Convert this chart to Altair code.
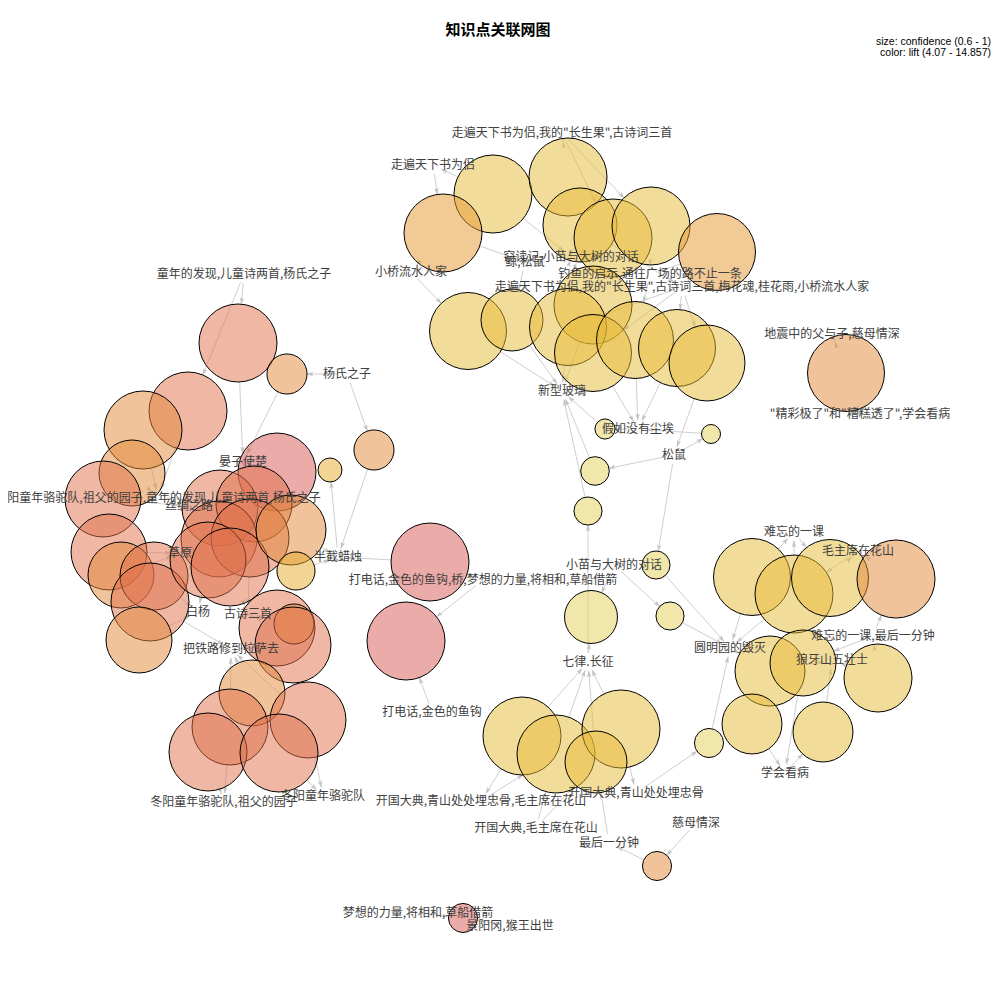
import math
import altair as alt
import pandas as pd

# ---------------- data ----------------
# rule nodes (circles): position in layout, confidence (size), lift (colour)
circle_x = [493, 568, 443, 580, 613, 651, 717, 593,
            468, 512, 568, 593, 635, 677, 707,
            605, 711, 595, 588, 656, 591, 670,
            846, 752, 794, 830, 896, 770, 803, 878, 752, 823, 709,
            522, 556, 621, 596, 657, 463,
            430, 406,
            238, 287, 188, 143, 132, 374, 330, 277, 103, 109, 121, 154, 150, 139,
            220, 254, 219, 250, 208, 230, 291, 296, 277, 294, 293,
            252, 230, 308, 208, 279]
circle_y = [194, 177, 233, 225, 238, 226, 252, 305,
            331, 320, 327, 353, 340, 348, 363,
            429, 434, 471, 511, 565, 617, 616,
            373, 577, 594, 578, 579, 671, 663, 678, 724, 732, 743,
            736, 754, 729, 762, 866, 918,
            562, 641,
            343, 374, 411, 430, 473, 450, 470, 472, 499, 552, 575, 576, 602, 640,
            508, 504, 539, 538, 560, 567, 530, 571, 628, 624, 645,
            693, 727, 720, 752, 753]
circle_conf = [1.0, 1.0, 1.0, 0.958, 1.0, 1.0, 0.989, 1.0,
               0.989, 0.843, 0.989, 0.989, 0.989, 0.989, 0.978,
               0.603, 0.600, 0.632, 0.630, 0.630, 0.771, 0.630,
               0.989, 0.989, 1.0, 0.989, 1.0, 0.917, 0.879, 0.898, 0.826, 0.826, 0.634,
               1.0, 1.0, 1.0, 0.843, 0.634, 0.634,
               1.0, 1.0,
               1.0, 0.687, 1.0, 1.0, 0.879, 0.687, 0.615, 1.0, 0.978, 0.978, 0.879, 0.898, 1.0, 0.879,
               0.978, 0.978, 0.978, 1.0, 0.978, 1.0, 0.917, 0.676, 0.978, 0.687, 0.978,
               0.879, 0.978, 0.978, 1.0, 1.0]
circle_lift = [6.0, 6.0, 7.5, 6.0, 6.0, 6.0, 7.5, 6.0,
               6.0, 6.0, 6.0, 6.0, 6.0, 6.0, 6.0,
               4.2, 4.2, 4.2, 4.2, 4.2, 4.2, 4.2,
               9.0, 6.0, 6.0, 6.0, 9.0, 6.0, 6.0, 6.0, 6.0, 6.0, 4.2,
               6.0, 6.0, 6.0, 6.0, 9.0, 14.5,
               14.5, 14.5,
               11.5, 9.0, 11.5, 9.0, 9.0, 9.0, 7.0, 14.5, 11.5, 11.5, 9.0, 11.5, 11.5, 9.0,
               11.5, 11.5, 11.5, 11.5, 11.5, 11.5, 9.0, 7.0, 11.5, 9.0, 11.5,
               9.0, 11.5, 11.5, 11.5, 11.5]

# item nodes (labels)
label_text = [
    '走遍天下书为侣,我的"长生果",古诗词三首',
    '走遍天下书为侣',
    '小桥流水人家',
    '窃读记,小苗与大树的对话',
    '鲸,松鼠',
    '钓鱼的启示,通往广场的路不止一条',
    '走遍天下书为侣,我的"长生果",古诗词三首,梅花魂,桂花雨,小桥流水人家',
    '新型玻璃',
    '假如没有尘埃',
    '松鼠',
    '地震中的父与子,慈母情深',
    '"精彩极了"和"糟糕透了",学会看病',
    '童年的发现,儿童诗两首,杨氏之子',
    '杨氏之子',
    '晏子使楚',
    '冬阳童年骆驼队,祖父的园子,童年的发现,儿童诗两首,杨氏之子',
    '丝绸之路',
    '草原',
    '半截蜡烛',
    '白杨',
    '古诗三首',
    '把铁路修到拉萨去',
    '冬阳童年骆驼队,祖父的园子',
    '冬阳童年骆驼队',
    '打电话,金色的鱼钩,桥,梦想的力量,将相和,草船借箭',
    '打电话,金色的鱼钩',
    '小苗与大树的对话',
    '七律.长征',
    '圆明园的毁灭',
    '开国大典,青山处处埋忠骨,毛主席在花山',
    '开国大典,青山处处埋忠骨',
    '开国大典,毛主席在花山',
    '最后一分钟',
    '慈母情深',
    '梦想的力量,将相和,草船借箭',
    '景阳冈,猴王出世',
    '学会看病',
    '狼牙山五壮士',
    '难忘的一课,最后一分钟',
    '难忘的一课',
    '毛主席在花山',
]
label_x = [562, 433, 411, 571, 525, 650, 682, 562, 638, 674, 832, 860,
           244, 347, 243, 158, 189, 180, 338, 198, 248, 231, 224, 323,
           483, 432, 614, 588, 730, 481, 636, 536, 609, 696, 418, 510,
           785, 832, 873, 794, 858]
label_y = [133, 165, 272, 257, 262, 274, 287, 391, 429, 455, 334, 414,
           274, 374, 462, 498, 506, 553, 557, 612, 614, 649, 802, 796,
           580, 712, 565, 662, 648, 801, 793, 828, 843, 823, 913, 926,
           773, 660, 636, 532, 551]

# edges: (from node, to node)
edge_from = ["c2", "c1", "c3", "c3", "c1", "L3", "c5", "c6", "c7", "L1", "L0", "c4", "L0", "c7",
             "L2", "c9", "c10", "c11", "c12", "c13", "c14", "c15", "L6", "L6", "L5", "L4", "L6", "L3", "c8", "L6",
             "L8", "c16", "L9", "c17", "c18", "L9", "c19", "L27", "L9", "c20", "L26", "L27", "L26", "c22",
             "c23", "L11", "c24", "c25", "c26", "c27", "L38", "c24", "c25", "L28", "c33", "L30", "c28",
             "L38", "c30", "c30", "c31", "L36", "c32", "L40", "L39", "c29",
             "c34", "c35", "c37", "c36", "c34", "L31", "L32", "c36", "L29", "L31", "L33", "c38", "L34", "c39",
             "c40", "c40", "L25", "L24",
             "L12", "c42", "L13", "c43", "L13", "c47", "L18", "c49", "c44", "c45", "c46", "L12",
             "c50", "c51", "c52", "c53", "c54", "c55", "c56", "c57", "c58", "c59", "c60", "c61",
             "c62", "c63", "c64", "c65", "c66", "c67", "c68", "c69", "c70", "c71", "c69", "c68",
             "L14", "L17", "L16"]
edge_to = ["L0", "L1", "L2", "L4", "L3", "c4", "L3", "L5", "L6", "c3", "c5", "L6", "c6", "L5",
           "c9", "L7", "L7", "L7", "L8", "L8", "L8", "L9", "c14", "c15", "c13", "c10", "c11", "c8", "L7", "c12",
           "c16", "L7", "c17", "L8", "L7", "c18", "L7", "c19", "c20", "L28", "c21", "c21", "c22", "L28",
           "L10", "c23", "L39", "L39", "L40", "L40", "c27", "L28", "L28", "c28", "L28", "c33", "L37",
           "c29", "L37", "L38", "L36", "c32", "L37", "c25", "c26", "L36",
           "L27", "L27", "L27", "L27", "L29", "c37", "c37", "L30", "c35", "c35", "c38", "L32", "c39", "L35",
           "L24", "L18", "c41", "c41",
           "c42", "L14", "c43", "L14", "c47", "L18", "c48", "L14", "L15", "L15", "L15", "c44",
           "L16", "L17", "L17", "L19", "L21", "L19", "L16", "L15", "L17", "L20", "L19", "L20",
           "L18", "L18", "L20", "L20", "L21", "L21", "L21", "L21", "L22", "L23", "L23", "L22",
           "c57", "c53", "c58"]

chart_title = "知识点关联网图"
legend_lines = ["size: confidence (0.6 - 1)", "color: lift (4.07 - 14.857)"]

# ---------------- derived tables ----------------
CONF_DOMAIN = [0.6, 1.0]
SIZE_RANGE = [361, 6084]


def radius_of(conf):
    s = SIZE_RANGE[0] + (conf - CONF_DOMAIN[0]) / (CONF_DOMAIN[1] - CONF_DOMAIN[0]) * (SIZE_RANGE[1] - SIZE_RANGE[0])
    return math.sqrt(s) / 2


circles = pd.DataFrame({"x": circle_x, "y": circle_y, "conf": circle_conf, "lift": circle_lift})
labels = pd.DataFrame({"x": label_x, "y": label_y, "text": label_text})


def node(nid):
    i = int(nid[1:])
    if nid[0] == "c":
        return circle_x[i - 1], circle_y[i - 1], radius_of(circle_conf[i - 1])
    return label_x[i], label_y[i], 9.0


rows = []
for a, b in zip(edge_from, edge_to):
    x1, y1, r1 = node(a)
    x2, y2, r2 = node(b)
    dx, dy = x2 - x1, y2 - y1
    d = math.hypot(dx, dy) or 1.0
    ux, uy = dx / d, dy / d
    sx, sy = x1 + ux * r1, y1 + uy * r1
    ex, ey = x2 - ux * r2, y2 - uy * r2
    ang = math.degrees(math.atan2(ux, -uy)) % 360
    rows.append({"sx": sx, "sy": sy, "ex": ex, "ey": ey,
                 "ax": ex - ux * 3.5, "ay": ey - uy * 3.5, "ang": ang})
edges = pd.DataFrame(rows)

titles = pd.DataFrame({"x": [498], "y": [30], "text": [chart_title]})
legend = pd.DataFrame({"x": [991, 991], "y": [40, 51], "text": legend_lines})

# ---------------- encodings ----------------
# the plot area is 984 x 970 px, mapped 1:1 onto page pixels (page margin 8)
xs = alt.Scale(domain=[8, 992], nice=False, zero=False)
ys = alt.Scale(domain=[8, 978], nice=False, zero=False, reverse=True)

edge_lines = alt.Chart(edges).mark_rule(color="#CFCFCF", strokeWidth=1).encode(
    x=alt.X("sx:Q", scale=xs, axis=None),
    y=alt.Y("sy:Q", scale=ys, axis=None),
    x2="ex:Q", y2="ey:Q",
)

arrow_heads = alt.Chart(edges).mark_point(
    shape="M0,-1L0.55,0.7L0,0.35L-0.55,0.7Z", filled=True, color="#C4C4C4", opacity=1, size=64
).encode(
    x=alt.X("ax:Q", scale=xs, axis=None),
    y=alt.Y("ay:Q", scale=ys, axis=None),
    angle=alt.Angle("ang:Q", scale=None),
)

nodes = alt.Chart(circles).mark_circle(
    stroke="black", strokeWidth=1, strokeOpacity=1, fillOpacity=0.5, opacity=1
).encode(
    x=alt.X("x:Q", scale=xs, axis=None),
    y=alt.Y("y:Q", scale=ys, axis=None),
    size=alt.Size("conf:Q", scale=alt.Scale(domain=CONF_DOMAIN, range=SIZE_RANGE, zero=False), legend=None),
    color=alt.Color("lift:Q", scale=alt.Scale(
        domain=[4.07, 6.0, 7.0, 7.5, 9.0, 11.5, 14.857],
        range=["#E4D05A", "#E5B935", "#E5A929", "#E5962D", "#E18735", "#E0704A", "#D75555"]),
        legend=None),
)

item_text = alt.Chart(labels).mark_text(
    font="Noto Sans CJK SC", fontSize=12, color="#404040", align="center", baseline="middle", dy=0
).encode(
    x=alt.X("x:Q", scale=xs, axis=None),
    y=alt.Y("y:Q", scale=ys, axis=None),
    text="text:N",
)

title_text = alt.Chart(titles).mark_text(
    font="Noto Sans CJK SC", fontSize=15, fontWeight="bold", color="black", align="center",
    baseline="middle", dy=0
).encode(
    x=alt.X("x:Q", scale=xs, axis=None),
    y=alt.Y("y:Q", scale=ys, axis=None),
    text="text:N",
)

legend_text = alt.Chart(legend).mark_text(
    font="Liberation Sans", fontSize=10.5, color="black", align="right", baseline="middle", dy=2
).encode(
    x=alt.X("x:Q", scale=xs, axis=None),
    y=alt.Y("y:Q", scale=ys, axis=None),
    text="text:N",
)

chart = alt.layer(edge_lines, arrow_heads, nodes, item_text, title_text, legend_text).properties(
    width=984, height=970,
    autosize=alt.AutoSizeParams(type="none"),
    padding=0,
    background="white",
).configure_view(stroke=None)

chart.save("out.html", embed_options={"renderer": "svg", "actions": False})
